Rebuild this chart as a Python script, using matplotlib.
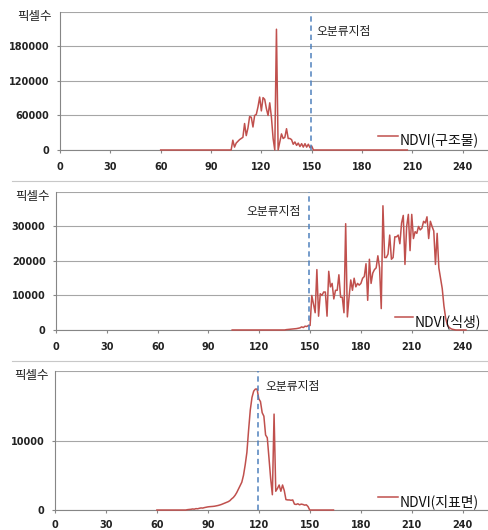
import numpy as np
import matplotlib
matplotlib.use('Agg')
from matplotlib import pyplot as plt
from matplotlib.lines import Line2D

KR = ['Noto Sans CJK KR', 'DejaVu Sans']

# NDVI histogram, 구조물 (structures), starts at 60
struct_start = 60
struct_vals = [0] * 43 + [
	17000, 5000, 12000, 15000, 18000, 20000, 22000, 46000, 25000, 38000,
	58000, 57000, 40000, 60000, 62000, 75000, 92000, 68000, 91000, 88000,
	72000, 60000, 82000, 57000, 20000, 0, 210000, 0, 14000, 28000,
	20000, 22000, 37000, 20000, 20000, 18000, 10000, 14000, 8000, 12000,
	6000, 11000, 5000, 11000, 5000, 10000, 4000, 7000] + [0] * 57

# 식생 (vegetation), starts at 104
veg_start = 104
veg_vals = [0] * 32 + [
	100, 150, 200, 250, 300, 350, 400, 500, 600, 900, 700, 1100, 1000, 1300,
	1300, 10000, 7500, 5000, 17500, 4000, 10500, 10000, 11000, 11000,
	4000, 17000, 12500, 13500, 9000, 11500, 11500, 16000, 9500, 9500,
	5000, 30800, 3800, 9500, 14500, 11500, 15000, 12500, 13500, 13000,
	13500, 15000, 15500, 19200, 8600, 20500, 13500, 16500, 17500, 18000,
	21500, 18000, 6200, 36000, 21000, 21000, 22000, 27500, 20500, 21000,
	27000, 27000, 27500, 25000, 31000, 33200, 19000, 30000, 33500, 23000,
	33500, 26500, 28500, 28000, 30000, 29000, 29500, 31500, 31000, 32800,
	26500, 31500, 30000, 28700, 19000, 28000, 18000, 15000, 12000, 7000,
	3500, 1500, 800, 400, 200, 100, 0] + [0] * 6

# 지표면 (ground surface), starts at 60
ground_start = 60
ground_vals = [0] * 18 + [
	50, 80, 100, 150, 120, 200, 180, 250, 300, 280, 350, 400, 450, 480,
	500, 520, 550, 600, 650, 720, 800, 900, 1000, 1100, 1200, 1350, 1600,
	1800, 2100, 2500, 3000, 3500, 4000, 5000, 6500, 8300, 11500, 14400,
	16200, 17100, 17400, 17400, 16000, 15600, 14000, 13500, 10800, 10400,
	7500, 4500, 2200, 13800, 2700, 3100, 3600, 2700, 3600, 2800, 1500,
	1450, 1450, 1400, 1450, 850, 800, 900, 750, 850, 800, 700, 750, 500,
	0] + [0] * 14

x_ticks = list(range(0, 241, 30))
panels = [
	# legend name, start, values, y max, y step, split point
	('NDVI(구조물)', struct_start, struct_vals, 240000, 60000, 149.5),
	('NDVI(식생)', veg_start, veg_vals, 40000, 10000, 149.5),
	('NDVI(지표면)', ground_start, ground_vals, 20000, 10000, 119.8),
]
split_labels = [(153, 0.862, 'left'), (144.4, 0.855, 'right'), (124.1, 0.885, 'left')]
# axes rectangles in figure fractions
rects = [[0.1227, 0.717, 0.875, 0.2604],
	[0.1145, 0.3774, 0.8834, 0.2604],
	[0.1125, 0.0377, 0.8855, 0.2623]]
legend_pos = [(0.743, 0.790, 0.101, 0.794, 0.065),
	(0.785, 0.826, 0.094, 0.831, 0.058),
	(0.746, 0.792, 0.094, 0.797, 0.058)]
ylabel_x = [-0.019, -0.014, -0.014]
xpads = [6, 6, 4.5]

fig = plt.figure(figsize=(4.89, 5.30), dpi=100)

for i, (name, start, vals, ymax, ystep, split) in enumerate(panels):
	ax = fig.add_axes(rects[i])
	x = np.arange(start, start + len(vals))
	ax.plot(x, vals, color='#C0504D', lw=1.1, zorder=3, clip_on=False)
	ax.set_xlim(0, 255)
	ax.set_ylim(0, ymax)
	ax.set_xticks(x_ticks)
	yt = list(range(0, ymax, ystep))
	ax.set_yticks(yt)
	ax.set_yticklabels([str(v) for v in yt])
	ax.axhline(ymax, color='#A6A6A6', lw=0.8, zorder=1)
	ax.grid(axis='y', color='#A6A6A6', lw=0.8, zorder=1)
	for s in ['top', 'right']:
		ax.spines[s].set_visible(False)
	for s in ['left', 'bottom']:
		ax.spines[s].set_color('#868686')
		ax.spines[s].set_linewidth(0.8)
	ax.tick_params(axis='both', labelsize=7, colors='#868686', labelcolor='#222222',
		length=2.5, width=0.8)
	ax.tick_params(axis='x', pad=xpads[i])
	ax.tick_params(axis='y', pad=5)
	for lab in ax.get_xticklabels() + ax.get_yticklabels():
		lab.set_fontweight('bold')

	ax.axvline(split, color='#4F81BD', lw=1.1, ls=(0, (3.5, 2.5)), zorder=4)
	lx, ly, ha = split_labels[i]
	ax.text(lx, ly, '오분류지점', transform=ax.get_xaxis_transform(), ha=ha, va='center',
		fontsize=8.5, family=KR, color='#222222')

	ax.text(ylabel_x[i], 0.965, '픽셀수', transform=ax.transAxes, ha='right', va='center',
		fontsize=9, family=KR, color='#222222')

	x0, x1, yl, tx, ty = legend_pos[i]
	ax.add_line(Line2D([x0, x1], [yl, yl], transform=ax.transAxes, color='#C0504D', lw=1.1))
	ax.text(tx, ty, name, transform=ax.transAxes, ha='left', va='center',
		fontsize=10, family=KR, color='#111111')

# thin separators between the three chart images
for yy in [1 - 181 / 530, 1 - 361 / 530]:
	fig.add_artist(Line2D([12 / 489, 488 / 489], [yy, yy], color='#C8C8C8', lw=0.8))

fig.savefig('out.png', dpi=100)
